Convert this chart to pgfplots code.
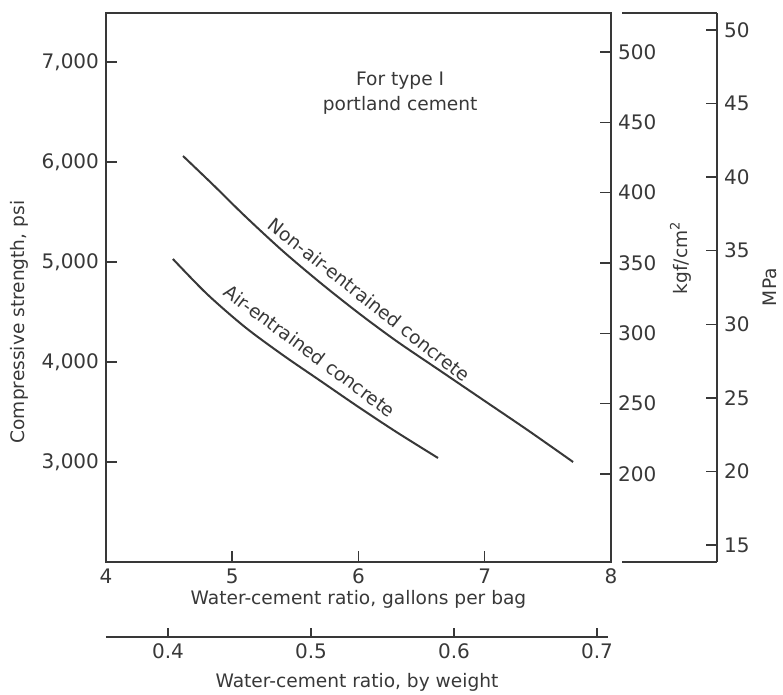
\documentclass[border=0pt]{standalone}
\usepackage{fontspec}
\setmainfont{DejaVu Sans}
\usepackage{pgfplots}
\pgfplotsset{compat=1.18}

\definecolor{ink}{gray}{0.22}

\pgfplotsset{
  base/.style={
    scale only axis,
    /pgf/number format/assume math mode=true,
    tick label style={font=\fontsize{10}{12}\selectfont, color=ink},
    label style={font=\fontsize{9.3}{11}\selectfont, color=ink},
    axis line style={ink, line width=0.75pt},
    tick style={ink, line width=0.75pt},
    major tick length=5.5pt,
    tick align=inside,
  },
}

\begin{document}
\begin{tikzpicture}
% 1 px of the reference = 0.5pt; origin = lower left corner of the main box
\path[use as bounding box] (-53pt,-66.5pt) rectangle (338.5pt,281pt);

% main axis: psi against gallons per bag
\begin{axis}[base,
    at={(0pt,0pt)}, anchor=south west,
    width=252.5pt, height=274.5pt,
    xmin=4, xmax=8, ymin=2000, ymax=7490,
    xtick={4,5,6,7,8}, xtick pos=bottom,
    ytick={3000,4000,5000,6000,7000}, ytick pos=left,
    yticklabels={{3,000},{4,000},{5,000},{6,000},{7,000}},
    xlabel={Water-cement ratio, gallons per bag},
    xlabel style={yshift=4pt},
    ylabel={Compressive strength, psi},
    ylabel style={at={(ticklabel cs:0.437)}},
    clip=false,
]
\addplot[ink, line width=1pt, smooth] coordinates {
  (4.61,6060) (4.85,5770) (5.1,5460) (5.4,5110) (5.7,4790) (6.0,4490)
  (6.3,4210) (6.65,3910) (7.0,3610) (7.35,3310) (7.70,3000)};
\addplot[ink, line width=1pt, smooth] coordinates {
  (4.53,5030) (4.8,4680) (5.1,4350) (5.4,4070) (5.7,3810) (6.0,3550)
  (6.3,3300) (6.63,3040)};
\node[rotate=-38.3, font=\fontsize{9.3}{11}\selectfont, text=ink,
      xshift=1.2pt, yshift=1.6pt]
  at (axis cs:6.055,4610) {Non-air-entrained concrete};
\node[rotate=-36.6, font=\fontsize{9.3}{11}\selectfont, text=ink,
      xshift=1.2pt, yshift=1.6pt]
  at (axis cs:5.584,4100) {Air-entrained concrete};
\node[align=center, font=\fontsize{9.3}{12.5}\selectfont, text=ink]
  at (axis cs:6.33,6690) {For type I\\portland cement};
\end{axis}

% kgf/cm2 scale on the right edge of the box
\begin{axis}[base,
    at={(0pt,0pt)}, anchor=south west,
    width=252.5pt, height=274.5pt,
    xmin=4, xmax=8, ymin=137.4, ymax=527.7,
    axis x line=none, axis y line*=right,
    ytick={200,250,300,350,400,450,500},
    ylabel={kgf/cm\textsuperscript{2}},
    ylabel style={at={(ticklabel cs:0.554)}},
]
\end{axis}

% MPa scale
\begin{axis}[base,
    at={(258pt,0pt)}, anchor=south west,
    width=47.5pt, height=274.5pt,
    xmin=0, xmax=1, ymin=13.84, ymax=51.16,
    axis x line=none, axis y line*=right,
    ytick={15,20,25,30,35,40,45,50},
    ylabel={MPa},
    ylabel style={at={(ticklabel cs:0.508)}, xshift=-2pt},
    clip=false,
]
\draw[ink, line width=0.75pt] (rel axis cs:0,0) -- (rel axis cs:1,0);
\draw[ink, line width=0.75pt] (rel axis cs:0,1) -- (rel axis cs:1,1);
\end{axis}

% water-cement ratio by weight
\begin{axis}[base,
    at={(0pt,-37.5pt)}, anchor=south west,
    width=251pt, height=10pt,
    xmin=0.3566, xmax=0.7077, ymin=0, ymax=1,
    axis x line*=bottom, axis y line=none,
    major tick length=4.5pt,
    xtick={0.4,0.5,0.6,0.7},
    xticklabels={0.4,0.5,0.6,0.7},
    xlabel={Water-cement ratio, by weight},
]
\end{axis}
\end{tikzpicture}
\end{document}
